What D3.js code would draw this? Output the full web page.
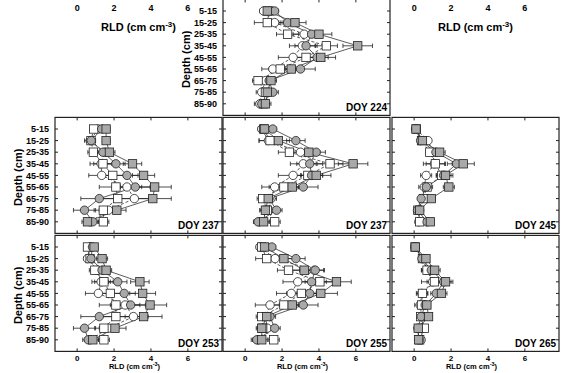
<!DOCTYPE html>
<html>
<head>
<meta charset="utf-8">
<script src="https://cdn.jsdelivr.net/npm/d3@7"></script>
<style>
  body { margin: 0; background: #fff; }
  svg { display: block; font-family: "Liberation Sans", Arial, sans-serif; font-weight: bold; }
</style>
</head>
<body>
<div id="chart"></div>
<script>
const depths = ["5-15", "15-25", "25-35", "35-45", "45-55", "55-65", "65-75", "75-85", "85-90"];
const xTicks = [0, 2, 4, 6];
// series order: open circle, open square, grey circle, grey square
const seriesNames = ["openCircle", "openSquare", "greyCircle", "greySquare"];

const rld224 = [
  [1.0, 1.6, 3.2, 3.1, 2.6, 1.5, 1.1, 0.9, 0.8],
  [1.3, 1.2, 2.3, 4.4, 3.3, 1.9, 0.7, 1.1, 1.0],
  [1.6, 2.3, 3.6, 3.3, 3.9, 3.0, 1.3, 1.5, 0.9],
  [1.2, 2.7, 4.0, 6.1, 4.1, 2.5, 1.4, 1.2, 1.1]
];
const err224 = [
  [0.2, 0.4, 0.6, 0.7, 0.8, 0.6, 0.4, 0.3, 0.3],
  [0.2, 0.7, 0.6, 0.6, 0.7, 0.6, 0.3, 0.3, 0.3],
  [0.2, 0.5, 0.5, 0.6, 0.6, 0.8, 0.3, 0.3, 0.3],
  [0.2, 0.6, 0.7, 0.8, 0.8, 0.5, 0.3, 0.3, 0.3]
];

const rld237a = [
  [1.15, 0.7, 1.5, 1.3, 1.33, 2.7, 3.1, 1.7, 0.7],
  [0.9, 0.75, 0.88, 1.4, 1.93, 2.1, 2.2, 1.42, 1.42],
  [1.33, 0.76, 1.4, 2.1, 2.7, 3.15, 1.2, 0.4, 0.85],
  [1.57, 1.57, 1.75, 3.0, 3.6, 4.2, 4.1, 2.15, 0.56]
];
const err237a = [
  [0.2, 0.3, 0.4, 0.6, 0.7, 0.8, 0.8, 0.5, 0.3],
  [0.2, 0.2, 0.3, 0.5, 0.6, 0.9, 0.9, 0.5, 0.3],
  [0.2, 0.2, 0.3, 0.5, 0.6, 0.8, 1.0, 0.6, 0.3],
  [0.2, 0.2, 0.3, 0.5, 0.6, 0.9, 1.0, 0.5, 0.3]
];

const rld237b = [
  [0.9, 1.26, 3.0, 3.15, 2.6, 1.6, 1.4, 1.3, 0.75],
  [1.0, 1.35, 2.4, 4.6, 3.4, 2.1, 0.95, 1.2, 1.6],
  [1.5, 2.75, 3.85, 3.5, 3.6, 3.15, 1.3, 1.7, 0.7],
  [1.05, 1.8, 3.45, 5.85, 3.85, 2.55, 1.25, 1.1, 1.0]
];
const err237b = [
  [0.2, 0.5, 0.5, 0.7, 0.8, 0.7, 0.3, 0.3, 0.3],
  [0.2, 0.6, 0.6, 0.7, 0.8, 0.8, 0.3, 0.4, 0.3],
  [0.2, 0.5, 0.5, 0.7, 0.6, 0.8, 0.3, 0.3, 0.2],
  [0.2, 0.6, 0.6, 0.8, 0.8, 0.6, 0.3, 0.3, 0.3]
];

const rld245 = [
  [0.1, 0.75, 1.0, 1.1, 0.65, 0.55, 0.45, 0.3, 0.25],
  [0.12, 0.4, 0.85, 1.15, 1.5, 0.7, 0.5, 0.2, 0.3],
  [0.08, 0.35, 1.18, 2.3, 1.6, 0.66, 0.38, 0.18, 0.7],
  [0.1, 0.45, 1.38, 2.66, 1.7, 1.88, 0.93, 0.3, 0.88]
];
const err245 = [
  [0.05, 0.1, 0.2, 0.6, 0.3, 0.3, 0.1, 0.1, 0.1],
  [0.05, 0.1, 0.2, 0.5, 0.3, 0.3, 0.1, 0.1, 0.1],
  [0.05, 0.1, 0.3, 0.5, 0.4, 0.2, 0.1, 0.1, 0.1],
  [0.05, 0.1, 0.3, 0.6, 0.4, 0.3, 0.2, 0.1, 0.1]
];

const rld253 = [
  [0.7, 0.56, 1.1, 1.3, 1.15, 2.6, 3.05, 1.7, 0.7],
  [0.56, 0.7, 0.96, 1.45, 1.8, 2.1, 2.1, 1.45, 1.45],
  [0.83, 0.75, 1.35, 2.2, 2.55, 2.9, 1.2, 0.4, 0.6],
  [0.92, 1.35, 1.57, 3.4, 3.55, 3.95, 3.6, 2.05, 0.85]
];
const err253 = [
  [0.2, 0.2, 0.3, 0.5, 0.7, 0.8, 0.8, 0.5, 0.3],
  [0.2, 0.2, 0.3, 0.5, 0.7, 0.9, 0.9, 0.5, 0.3],
  [0.2, 0.2, 0.3, 0.5, 0.6, 0.8, 1.0, 0.6, 0.3],
  [0.2, 0.3, 0.3, 0.5, 0.7, 0.9, 1.0, 0.6, 0.3]
];

const rld255 = [
  [0.8, 1.62, 3.75, 2.85, 2.5, 1.35, 1.1, 1.2, 0.7],
  [0.9, 1.17, 2.35, 4.05, 3.05, 2.1, 0.9, 0.95, 1.55],
  [1.45, 2.75, 3.8, 3.6, 3.5, 3.15, 1.35, 1.6, 0.63],
  [1.05, 2.1, 3.2, 4.95, 4.1, 2.55, 1.17, 0.9, 0.9]
];
const err255 = [
  [0.2, 0.5, 0.5, 0.8, 0.8, 0.8, 0.3, 0.3, 0.3],
  [0.2, 0.6, 0.6, 0.8, 0.8, 0.8, 0.3, 0.3, 0.3],
  [0.2, 0.5, 0.5, 0.8, 0.7, 0.8, 0.3, 0.3, 0.3],
  [0.2, 0.6, 0.7, 0.8, 0.9, 0.7, 0.3, 0.3, 0.3]
];

const rld265 = [
  [0.06, 0.5, 0.69, 1.0, 0.42, 0.33, 0.4, 0.45, 0.38],
  [0.05, 0.45, 0.7, 1.1, 0.45, 0.4, 0.35, 0.55, 0.3],
  [0.05, 0.42, 0.93, 1.6, 1.2, 0.6, 0.38, 0.2, 0.25],
  [0.06, 0.64, 1.11, 1.7, 1.48, 0.69, 0.78, 0.22, 0.24]
];
const err265 = [
  [0.05, 0.1, 0.3, 0.6, 0.3, 0.3, 0.1, 0.1, 0.1],
  [0.05, 0.1, 0.3, 0.4, 0.3, 0.2, 0.1, 0.1, 0.1],
  [0.05, 0.1, 0.3, 0.4, 0.3, 0.2, 0.1, 0.1, 0.1],
  [0.05, 0.1, 0.3, 0.4, 0.3, 0.2, 0.2, 0.1, 0.1]
];

const width = 575, height = 373;
const pw = 167, ph = 116;
const colX = [55, 223, 392];
const rowY = [-0.6, 117.4, 235.4];

const panels = [
  { doy: "DOY 224", col: 1, row: 0, rld: rld224, err: err224 },
  { doy: "DOY 237", col: 0, row: 1, rld: rld237a, err: err237a },
  { doy: "DOY 237", col: 1, row: 1, rld: rld237b, err: err237b },
  { doy: "DOY 245", col: 2, row: 1, rld: rld245, err: err245 },
  { doy: "DOY 253", col: 0, row: 2, rld: rld253, err: err253 },
  { doy: "DOY 255", col: 1, row: 2, rld: rld255, err: err255 },
  { doy: "DOY 265", col: 2, row: 2, rld: rld265, err: err265 }
];

const svg = d3.select("#chart").append("svg")
  .attr("width", width)
  .attr("height", height);

const x = d3.scaleLinear().domain([-1.2, 7.85]).range([0, pw]);
const y = d3.scaleLinear().domain([-1, 9]).range([0, ph]);

const ink = "#222";
const grey = "#a9a9a9";

panels.forEach((p) => {
  const g = svg.append("g")
    .attr("transform", `translate(${colX[p.col]},${rowY[p.row]})`);

  g.append("rect")
    .attr("width", pw).attr("height", ph)
    .attr("fill", "#fff").attr("stroke", ink).attr("stroke-width", 1.2);

  // inward ticks on all sides
  xTicks.forEach((t) => {
    g.append("line").attr("x1", x(t)).attr("x2", x(t)).attr("y1", 0).attr("y2", 3).attr("stroke", ink);
    g.append("line").attr("x1", x(t)).attr("x2", x(t)).attr("y1", ph).attr("y2", ph - 3).attr("stroke", ink);
  });
  depths.forEach((d, i) => {
    g.append("line").attr("x1", 0).attr("x2", 3).attr("y1", y(i)).attr("y2", y(i)).attr("stroke", ink);
    g.append("line").attr("x1", pw).attr("x2", pw - 3).attr("y1", y(i)).attr("y2", y(i)).attr("stroke", ink);
  });

  const line = d3.line().x((d) => x(d)).y((d, i) => y(i));

  p.rld.forEach((vals, s) => {
    g.append("path")
      .attr("d", line(vals))
      .attr("fill", "none")
      .attr("stroke", "#333")
      .attr("stroke-width", 0.8)
      .attr("stroke-dasharray", s < 2 ? "3,2" : null);
  });

  p.rld.forEach((vals, s) => {
    const e = p.err[s];
    vals.forEach((v, i) => {
      const lo = x(v - e[i]), hi = x(v + e[i]), yy = y(i);
      g.append("line").attr("x1", lo).attr("x2", hi).attr("y1", yy).attr("y2", yy)
        .attr("stroke", ink).attr("stroke-width", 0.8);
      [lo, hi].forEach((cx) => {
        g.append("line").attr("x1", cx).attr("x2", cx).attr("y1", yy - 2.2).attr("y2", yy + 2.2)
          .attr("stroke", ink).attr("stroke-width", 0.8);
      });
    });
  });

  p.rld.forEach((vals, s) => {
    const fill = s < 2 ? "#fff" : grey;
    const isCircle = s % 2 === 0;
    vals.forEach((v, i) => {
      if (isCircle) {
        g.append("circle").attr("cx", x(v)).attr("cy", y(i)).attr("r", 4.2)
          .attr("fill", fill).attr("stroke", ink).attr("stroke-width", 0.8);
      } else {
        g.append("rect").attr("x", x(v) - 4.2).attr("y", y(i) - 4.2).attr("width", 8.4).attr("height", 8.4)
          .attr("fill", fill).attr("stroke", ink).attr("stroke-width", 0.8);
      }
    });
  });

  g.append("text")
    .attr("x", pw - 3).attr("y", ph - 4)
    .attr("text-anchor", "end")
    .attr("font-size", 10)
    .text(p.doy);

  // depth labels on the left-most panel of each row
  if (p.col === 0 || p.row === 0) {
    depths.forEach((d, i) => {
      g.append("text")
        .attr("x", -6).attr("y", y(i))
        .attr("dy", "0.35em")
        .attr("text-anchor", "end")
        .attr("font-size", 9)
        .text(d);
    });
    g.append("text")
      .attr("transform", `translate(-33,${ph / 2 + 2}) rotate(-90)`)
      .attr("text-anchor", "middle")
      .attr("font-size", 11)
      .text("Depth (cm)");
  }

  // bottom row x axis
  if (p.row === 2) {
    xTicks.forEach((t) => {
      g.append("text").attr("x", x(t)).attr("y", ph + 10)
        .attr("text-anchor", "middle").attr("font-size", 8).text(t);
    });
    const lab = g.append("text").attr("x", pw / 2 - 4).attr("y", ph + 18)
      .attr("text-anchor", "middle").attr("font-size", 7.5);
    lab.append("tspan").text("RLD (cm cm");
    lab.append("tspan").attr("dy", -3).attr("font-size", 5.5).text("-3");
    lab.append("tspan").attr("dy", 3).text(")");
  }
});

// top axis labels in the empty corners above the left and right columns
[0, 2].forEach((col) => {
  const g = svg.append("g").attr("transform", `translate(${colX[col]},0)`);
  xTicks.forEach((t) => {
    g.append("text").attr("x", x(t)).attr("y", 11)
      .attr("text-anchor", "middle").attr("font-size", 9).text(t);
  });
  const lab = g.append("text").attr("x", pw / 2).attr("y", 31)
    .attr("text-anchor", "middle").attr("font-size", 11);
  lab.append("tspan").text("RLD (cm cm");
  lab.append("tspan").attr("dy", -4).attr("font-size", 8).text("-3");
  lab.append("tspan").attr("dy", 4).text(")");
});
</script>
</body>
</html>
